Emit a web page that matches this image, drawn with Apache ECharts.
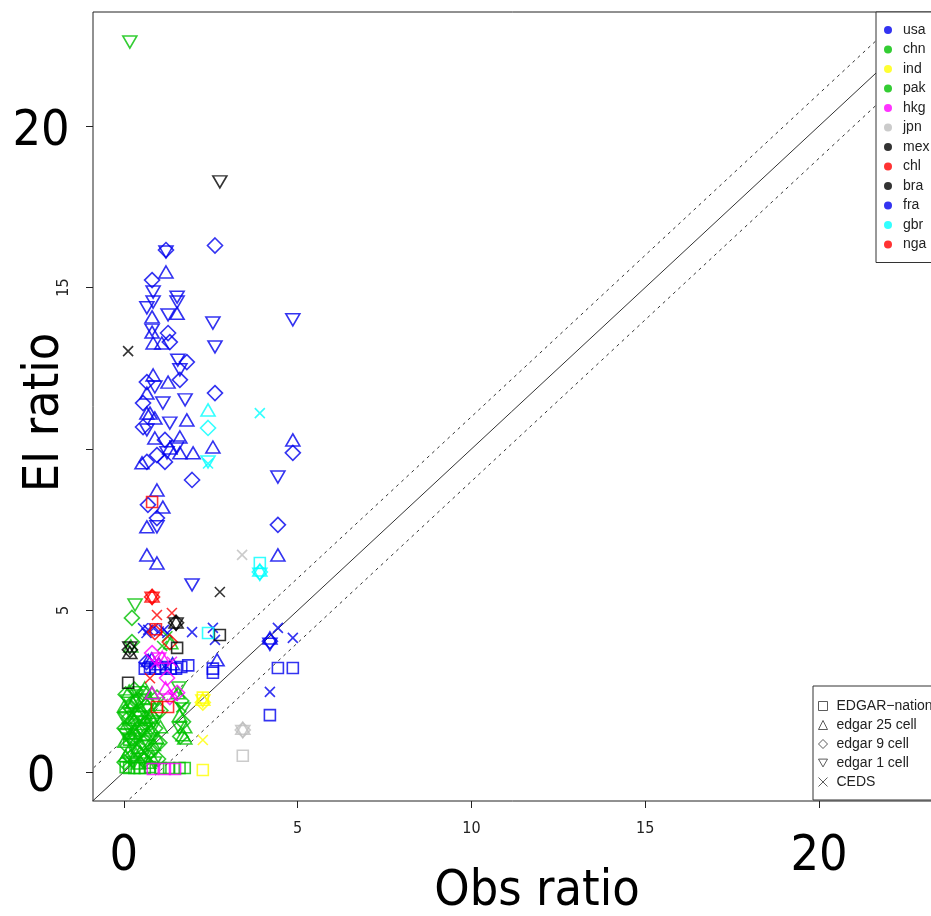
<!DOCTYPE html>
<html>
<head>
<meta charset="utf-8">
<script src="https://cdn.jsdelivr.net/npm/echarts@6/dist/echarts.min.js"></script>
<style>
  html, body { margin: 0; padding: 0; background: #fff; }
  #main { width: 931px; height: 916px; }
</style>
</head>
<body>
<div id="main"></div>
<script>
// method index: 0 EDGAR-nat (square), 1 edgar 25 cell (triangle), 2 edgar 9 cell (diamond), 3 edgar 1 cell (down triangle), 4 CEDS (x)
const methods = ['EDGAR−national', 'edgar 25 cell', 'edgar 9 cell', 'edgar 1 cell', 'CEDS']
const countries = ['usa', 'chn', 'ind', 'pak', 'hkg', 'jpn', 'mex', 'chl', 'bra', 'fra', 'gbr', 'nga']
const colors = ['#0000ee', '#00c000', '#ffff00', '#00c000', '#ff00ff', '#bebebe', '#000000', '#ff0000', '#000000', '#0000ee', '#00ffff', '#ff0000']

const xTicks = [0, 5, 10, 15, 20]
const yTicks = [0, 5, 10, 15, 20]
const xSmallLabels = [5, 10, 15]
const ySmallLabels = [5, 15]
const bigLabels = [0, 20]

// [obs ratio, EI ratio, method]
const usa = [
  [1.21, 16.16, 2], [1.21, 16.10, 3], [1.21, 15.48, 1], [0.81, 15.23, 2], [0.84, 14.86, 3], [0.84, 14.55, 3],
  [0.66, 14.37, 3], [0.81, 14.09, 1], [1.53, 14.70, 3], [1.53, 14.55, 3], [1.53, 14.20, 1], [1.27, 14.15, 3],
  [0.81, 13.68, 3], [0.81, 13.62, 1], [0.84, 13.28, 1], [1.27, 13.59, 2], [1.32, 13.31, 2], [1.09, 13.28, 1],
  [1.55, 12.75, 3], [1.81, 12.69, 2], [1.61, 12.45, 3], [1.61, 12.14, 2], [1.27, 12.07, 1], [0.84, 12.29, 1],
  [0.66, 12.07, 2], [0.89, 11.92, 3], [0.66, 11.73, 1], [1.12, 11.42, 3], [1.76, 11.52, 3], [0.55, 11.42, 2],
  [0.75, 11.11, 1], [0.66, 11.11, 1], [0.89, 10.96, 1], [1.32, 10.80, 3], [1.81, 10.90, 1], [0.66, 10.59, 3],
  [0.55, 10.68, 2], [0.89, 10.34, 1], [1.18, 10.28, 2], [1.61, 10.37, 1], [1.53, 10.06, 3], [1.99, 9.88, 1],
  [0.95, 9.81, 2], [1.24, 9.88, 3], [1.61, 9.88, 1], [0.66, 9.60, 2], [0.52, 9.57, 1], [1.18, 9.60, 2],
  [1.32, 10.03, 1], [1.96, 9.04, 2], [0.95, 8.73, 1], [0.69, 8.27, 2], [1.12, 8.20, 1], [0.95, 7.86, 2],
  [0.66, 7.59, 1], [0.95, 7.59, 3], [0.66, 6.72, 1], [0.95, 6.47, 1], [1.96, 5.79, 3],
  [2.62, 16.30, 2], [2.56, 13.90, 3], [2.62, 13.16, 3], [2.62, 11.73, 2], [2.56, 10.06, 1],
  [2.56, 4.46, 4], [2.62, 4.09, 4], [2.68, 3.47, 1], [2.56, 3.07, 0], [2.56, 3.20, 0],
  [0.55, 4.45, 4], [0.70, 4.40, 4], [0.85, 4.45, 4], [1.00, 4.35, 4], [1.15, 4.40, 4], [1.25, 4.30, 4],
  [1.96, 4.33, 4], [0.65, 4.30, 4], [0.60, 3.20, 0], [0.75, 3.25, 0], [0.90, 3.20, 0], [1.05, 3.20, 0],
  [1.20, 3.25, 0], [1.35, 3.20, 0], [1.50, 3.20, 0], [1.65, 3.25, 0], [1.85, 3.30, 0], [0.70, 3.45, 1],
  [0.80, 3.50, 1], [1.00, 3.35, 1], [1.40, 3.35, 1], [0.65, 3.40, 2], [1.20, 3.30, 4]
]
const chn = [
  [0.17, 22.60, 3],
  [0.05, 0.15, 0], [0.15, 0.12, 0], [0.30, 0.12, 0], [0.45, 0.12, 0], [0.60, 0.12, 0], [0.75, 0.15, 0],
  [1.05, 0.12, 0], [1.30, 0.12, 0], [1.60, 0.12, 0], [1.75, 0.12, 0],
  [0.05, 0.50, 1], [0.20, 0.45, 2], [0.35, 0.55, 1], [0.50, 0.40, 3], [0.65, 0.50, 2], [0.80, 0.45, 1],
  [0.10, 0.80, 2], [0.25, 0.85, 3], [0.40, 0.75, 1], [0.55, 0.90, 2], [0.70, 0.80, 3], [0.85, 0.85, 1],
  [0.05, 1.15, 3], [0.20, 1.20, 1], [0.35, 1.10, 2], [0.50, 1.25, 3], [0.65, 1.15, 1], [0.80, 1.20, 2],
  [0.95, 1.05, 1], [0.10, 1.50, 1], [0.25, 1.45, 2], [0.40, 1.55, 3], [0.55, 1.50, 1], [0.70, 1.45, 2],
  [0.85, 1.55, 3], [0.05, 1.85, 2], [0.20, 1.80, 3], [0.35, 1.90, 1], [0.50, 1.80, 2], [0.65, 1.90, 3],
  [0.80, 1.85, 1], [0.10, 2.20, 3], [0.25, 2.15, 1], [0.40, 2.25, 2], [0.55, 2.20, 3], [0.70, 2.30, 1],
  [0.15, 2.50, 1], [0.30, 2.55, 2], [0.45, 2.45, 3], [0.60, 2.60, 1],
  [0.10, 0.30, 4], [0.40, 1.00, 4], [0.70, 1.60, 4], [0.30, 2.00, 4], [0.60, 0.60, 4],
  [0.02, 0.30, 2], [0.12, 0.62, 1], [0.28, 0.30, 3], [0.42, 0.28, 1], [0.58, 0.35, 2], [0.72, 0.30, 1],
  [0.88, 0.28, 3], [0.98, 0.40, 2], [0.02, 0.95, 1], [0.16, 1.02, 3], [0.30, 0.98, 2], [0.47, 0.62, 1],
  [0.62, 1.00, 3], [0.76, 0.65, 2], [0.92, 0.70, 3], [1.02, 0.90, 2], [0.02, 1.35, 2], [0.15, 1.32, 3],
  [0.30, 1.30, 1], [0.45, 1.40, 2], [0.60, 1.32, 3], [0.75, 1.30, 1], [0.90, 1.35, 2], [1.05, 1.40, 1],
  [0.02, 1.65, 3], [0.14, 1.68, 2], [0.28, 1.62, 1], [0.44, 1.70, 3], [0.60, 1.65, 2], [0.78, 1.70, 1],
  [0.95, 1.72, 3], [1.05, 1.90, 2], [0.02, 2.05, 1], [0.16, 2.00, 2], [0.45, 2.05, 1], [0.62, 2.05, 2],
  [0.85, 2.10, 3], [0.05, 2.40, 2], [0.35, 2.35, 3], [0.55, 2.45, 2], [0.80, 2.45, 1], [0.95, 2.30, 2],
  [1.55, 2.45, 1], [1.65, 2.20, 2], [1.70, 1.95, 3], [1.60, 1.75, 1], [1.70, 1.55, 2], [1.60, 1.35, 3],
  [1.70, 1.15, 1], [1.75, 1.05, 1], [1.65, 2.00, 4], [1.25, 4.20, 4], [1.10, 3.90, 4], [1.35, 4.00, 1],
  [1.58, 2.60, 3], [1.75, 1.40, 1], [1.62, 1.10, 2]
]
const ind = [[2.27, 0.99, 4], [2.27, 0.06, 0], [2.27, 2.30, 0], [2.27, 2.25, 1], [2.27, 2.20, 3], [2.27, 2.15, 2]]
const pak = [[0.32, 5.17, 3], [0.23, 4.77, 2], [0.23, 4.02, 2], [0.20, 3.90, 1], [0.15, 1.00, 0], [0.50, 0.70, 4]]
const hkg = [
  [0.81, 3.68, 2], [1.38, 3.41, 4], [1.24, 2.91, 2], [0.81, 2.45, 1], [1.32, 2.32, 2], [1.53, 2.45, 2],
  [1.40, 2.35, 4], [1.20, 2.60, 1], [0.83, 0.09, 0], [1.18, 0.09, 0], [1.47, 0.09, 0], [1.00, 3.50, 3],
  [0.90, 3.35, 4], [1.10, 3.55, 1]
]
const jpn = [[3.40, 6.72, 4], [3.42, 1.35, 1], [3.42, 1.25, 3], [3.42, 1.30, 2], [3.42, 0.50, 0]]
const mex = [[0.12, 13.03, 4], [2.76, 18.27, 3], [2.76, 5.57, 4], [2.76, 4.24, 0], [0.12, 2.76, 0]]
const chl = [[0.81, 8.36, 0], [0.81, 5.45, 1], [0.81, 5.38, 3], [0.81, 5.42, 2], [0.95, 4.86, 4], [1.38, 4.92, 4], [0.89, 4.33, 2], [1.32, 4.02, 2]]
const bra = [[1.50, 4.64, 1], [1.50, 4.58, 3], [1.50, 4.62, 2], [0.17, 3.78, 2], [0.17, 3.70, 1], [0.17, 3.84, 3], [1.53, 3.84, 0]]
const fra = [
  [4.86, 14.00, 3], [4.86, 10.28, 1], [4.86, 9.88, 2], [4.43, 9.13, 3], [4.43, 7.65, 2], [4.43, 6.72, 1],
  [4.43, 4.46, 4], [4.86, 4.15, 4], [4.20, 4.05, 2], [4.20, 3.95, 3], [4.20, 4.15, 1], [4.43, 3.22, 0],
  [4.86, 3.22, 0], [4.20, 2.48, 4], [4.20, 1.76, 0]
]
const gbr = [[2.42, 11.21, 1], [3.91, 11.11, 4], [2.42, 10.65, 2], [2.42, 9.60, 3], [2.42, 9.55, 4], [3.91, 6.47, 0], [3.91, 6.25, 1], [3.91, 6.19, 2], [3.91, 6.12, 3], [2.42, 4.30, 0]]
const nga = [[0.95, 2.01, 0], [1.27, 2.01, 0], [0.75, 2.90, 4], [0.92, 4.42, 0]]

const countryData = [usa, chn, ind, pak, hkg, jpn, mex, chl, bra, fra, gbr, nga]

const shapes = ['rect', 'triangle', 'diamond', 'path://M0,0L20,0L10,17.3Z', 'path://M0,0L10,10M10,0L0,10']
const shapeSizes = [[11, 11], [14, 12], [15, 15], [14, 12], [10, 10]]

const narrow = "'Liberation Sans Narrow', 'DejaVu Sans Condensed', sans-serif"
const xMin = -0.89, xMax = 23.28, yMin = -0.9, yMax = 23.53

const myChart = echarts.init(document.getElementById('main'))

const pointSeries = countries.map((c, i) => ({
  name: c,
  type: 'scatter',
  z: 3,
  itemStyle: { color: 'rgba(0,0,0,0)', borderColor: colors[i], borderWidth: 1.6 },
  data: countryData[i].map(p => ({ value: [p[0], p[1]], symbol: shapes[p[2]], symbolSize: shapeSizes[p[2]] }))
}))

const methodSeries = methods.map(m => ({
  name: m, type: 'scatter', data: [],
  itemStyle: { color: 'rgba(0,0,0,0)', borderColor: '#333', borderWidth: 1 }
}))

const refLine = (off, dashed) => ({
  type: 'line', silent: true, symbol: 'none', z: 1,
  lineStyle: { color: '#333', width: 1, type: dashed ? [3, 4] : 'solid' },
  data: [[-5, -5 + off], [30, 30 + off]]
})

myChart.setOption({
  animation: false,
  backgroundColor: '#fff',
  grid: {
    left: 93, top: 12, width: 840, height: 789, show: true, borderColor: '#222', borderWidth: 1,
    outerBoundsMode: 'none', containLabel: false
  },
  xAxis: [
    {
      type: 'value', min: xMin, max: xMax,
      axisLine: { show: false, onZero: false }, splitLine: { show: false },
      axisTick: { show: true, length: 7, lineStyle: { color: '#222' }, customValues: xTicks },
      axisLabel: { customValues: xSmallLabels, margin: 20, fontSize: 16, fontFamily: narrow, color: '#222' },
      name: 'Obs ratio', nameLocation: 'middle', nameGap: 66, nameMoveOverlap: false,
      nameTextStyle: { fontSize: 50, fontFamily: narrow, color: '#000', padding: [0, 0, 0, 48] }
    },
    {
      type: 'value', min: xMin, max: xMax, position: 'bottom', gridIndex: 0,
      axisLine: { show: false, onZero: false }, axisTick: { show: false }, splitLine: { show: false },
      axisLabel: { customValues: bigLabels, margin: 31, fontSize: 50, fontFamily: narrow, color: '#000' }
    }
  ],
  yAxis: [
    {
      type: 'value', min: yMin, max: yMax,
      axisLine: { show: false, onZero: false }, splitLine: { show: false },
      axisTick: { show: true, length: 7, lineStyle: { color: '#222' }, customValues: yTicks },
      axisLabel: { customValues: ySmallLabels, rotate: 90, margin: 21, fontSize: 16, fontFamily: narrow, color: '#222' },
      name: 'EI ratio', nameLocation: 'middle', nameGap: 23, nameRotate: 90, nameMoveOverlap: false,
      nameTextStyle: { fontSize: 50, fontFamily: narrow, color: '#000', padding: [0, 12, 0, 0] }
    },
    {
      type: 'value', min: yMin, max: yMax, position: 'left', offset: 0,
      axisLine: { show: false, onZero: false }, axisTick: { show: false }, splitLine: { show: false },
      axisLabel: {
        customValues: bigLabels, align: 'center', margin: 52,
        formatter: '{b|{value}}',
        rich: { b: { fontSize: 50, fontFamily: narrow, color: '#000', padding: [12, 0, 0, 0] } }
      }
    }
  ],
  legend: [
    {
      orient: 'vertical', left: 876, top: 12, selectedMode: false,
      itemWidth: 8, itemHeight: 8, itemGap: 5.5,
      padding: [11, 40, 11, 8],
      borderColor: '#333', borderWidth: 1, backgroundColor: '#fff',
      textStyle: { fontSize: 14, fontFamily: "'Liberation Sans', Arial, sans-serif", color: '#222', padding: [0, 0, 0, 6], lineHeight: 14 },
      data: countries.map((c, i) => ({ name: c, icon: 'circle', itemStyle: { color: colors[i], borderWidth: 0 } }))
    },
    {
      orient: 'vertical', left: 813, top: 686, selectedMode: false,
      itemWidth: 9, itemHeight: 9, itemGap: 5,
      padding: [13, 60, 11, 5],
      borderColor: '#333', borderWidth: 1, backgroundColor: '#fff',
      textStyle: { fontSize: 14, fontFamily: "'Liberation Sans', Arial, sans-serif", color: '#222', padding: [0, 0, 0, 4], lineHeight: 14 },
      data: methods.map((m, i) => ({ name: m, icon: shapes[i], itemStyle: { color: 'rgba(0,0,0,0)', borderColor: '#333', borderWidth: 1 } }))
    }
  ],
  series: [refLine(0, false), refLine(1, true), refLine(-1, true), ...pointSeries, ...methodSeries]
})
</script>
</body>
</html>
